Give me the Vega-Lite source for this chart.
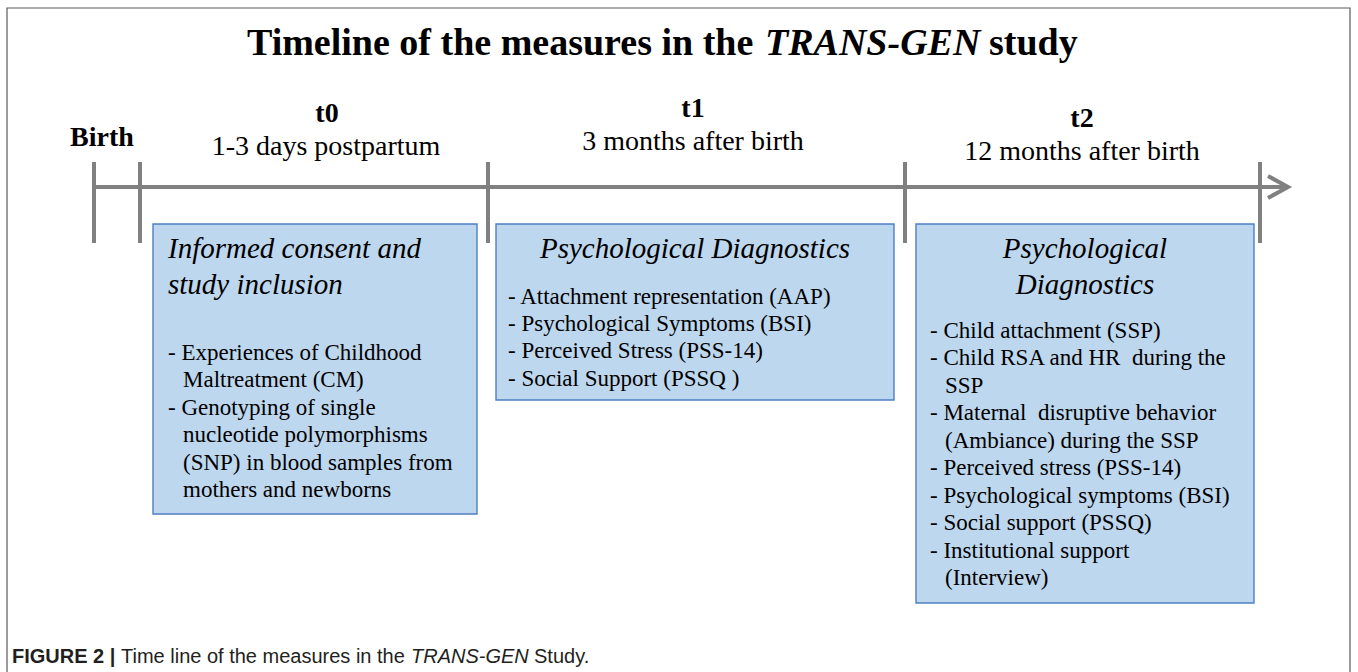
{
  "$schema": "https://vega.github.io/schema/vega-lite/v6.json",
  "width": 1358,
  "height": 672,
  "autosize": {"type": "fit", "contains": "padding"},
  "padding": 0,
  "background": "white",
  "config": {"view": {"stroke": null}},
  "datasets": {
    "frame": [{"x": 7, "x2": 1350, "y": 8, "y2": 700}],
    "boxes": [
      {"x": 153, "x2": 477, "y": 224, "y2": 514},
      {"x": 496, "x2": 894, "y": 224, "y2": 400},
      {"x": 916, "x2": 1254, "y": 224, "y2": 603}
    ],
    "hline": [{"x": 93, "x2": 1285, "y": 187}],
    "ticks": [
      {"x": 94, "y": 162, "y2": 243},
      {"x": 140, "y": 162, "y2": 243},
      {"x": 488, "y": 162, "y2": 243},
      {"x": 905, "y": 162, "y2": 243},
      {"x": 1260, "y": 162, "y2": 243}
    ],
    "arrow": [
      {"x": 1268, "y": 176, "o": 1},
      {"x": 1288, "y": 187, "o": 2},
      {"x": 1268, "y": 198, "o": 3}
    ],
    "texts": [
      {"role": "title", "t": "Timeline of the measures in the", "x": 247, "y": 55},
      {"role": "titleItalic", "t": "TRANS-GEN", "x": 765, "y": 55},
      {"role": "title", "t": "study", "x": 989, "y": 55},
      {"role": "point", "t": "Birth", "x": 102, "y": 146},
      {"role": "point", "t": "t0", "x": 327, "y": 122},
      {"role": "pointSub", "t": "1-3 days postpartum", "x": 326, "y": 155},
      {"role": "point", "t": "t1", "x": 693, "y": 117},
      {"role": "pointSub", "t": "3 months after birth", "x": 693, "y": 150},
      {"role": "point", "t": "t2", "x": 1082, "y": 127},
      {"role": "pointSub", "t": "12 months after birth", "x": 1082, "y": 160},
      {"role": "headLeft", "t": "Informed consent and", "x": 168, "y": 258},
      {"role": "headLeft", "t": "study inclusion", "x": 168, "y": 294},
      {"role": "headCenter", "t": "Psychological Diagnostics", "x": 695, "y": 258},
      {"role": "headCenter", "t": "Psychological", "x": 1085, "y": 258},
      {"role": "headCenter", "t": "Diagnostics", "x": 1085, "y": 294},
      {"role": "body", "t": "- Experiences of Childhood", "x": 168, "y": 360},
      {"role": "body", "t": "Maltreatment (CM)", "x": 183, "y": 387},
      {"role": "body", "t": "- Genotyping of single", "x": 168, "y": 415},
      {"role": "body", "t": "nucleotide polymorphisms", "x": 183, "y": 442},
      {"role": "body", "t": "(SNP) in blood samples from", "x": 183, "y": 470},
      {"role": "body", "t": "mothers and newborns", "x": 183, "y": 497},
      {"role": "body", "t": "- Attachment representation (AAP)", "x": 508, "y": 304},
      {"role": "body", "t": "- Psychological Symptoms (BSI)", "x": 508, "y": 331},
      {"role": "body", "t": "- Perceived Stress (PSS-14)", "x": 508, "y": 358},
      {"role": "body", "t": "- Social Support (PSSQ )", "x": 508, "y": 386},
      {"role": "body", "t": "- Child attachment (SSP)", "x": 930, "y": 338},
      {"role": "body", "t": "- Child RSA and HR\u00a0 during the", "x": 930, "y": 365},
      {"role": "body", "t": "SSP", "x": 945, "y": 393},
      {"role": "body", "t": "- Maternal\u00a0 disruptive behavior", "x": 930, "y": 420},
      {"role": "body", "t": "(Ambiance) during the SSP", "x": 945, "y": 448},
      {"role": "body", "t": "- Perceived stress (PSS-14)", "x": 930, "y": 475},
      {"role": "body", "t": "- Psychological symptoms (BSI)", "x": 930, "y": 503},
      {"role": "body", "t": "- Social support (PSSQ)", "x": 930, "y": 530},
      {"role": "body", "t": "- Institutional support", "x": 930, "y": 558},
      {"role": "body", "t": "(Interview)", "x": 945, "y": 585},
      {"role": "capBold", "t": "FIGURE 2 |", "x": 12, "y": 663},
      {"role": "cap", "t": "Time line of the measures in the", "x": 121, "y": 663},
      {"role": "capItalic", "t": "TRANS-GEN", "x": 411, "y": 663},
      {"role": "cap", "t": "Study.", "x": 534, "y": 663}
    ]
  },
  "encoding": {
    "x": {"field": "x", "type": "quantitative", "scale": {"domain": [0, 1358], "nice": false, "zero": false}, "axis": null},
    "y": {"field": "y", "type": "quantitative", "scale": {"domain": [0, 672], "nice": false, "zero": false, "reverse": true}, "axis": null}
  },
  "layer": [
    {
      "data": {"name": "frame"},
      "mark": {"type": "rect", "fill": null, "stroke": "#5a5a5a", "strokeWidth": 1.2, "clip": true},
      "encoding": {"x2": {"field": "x2"}, "y2": {"field": "y2"}}
    },
    {
      "data": {"name": "boxes"},
      "mark": {"type": "rect", "fill": "#bdd7ee", "stroke": "#4f7fc4", "strokeWidth": 1.4},
      "encoding": {"x2": {"field": "x2"}, "y2": {"field": "y2"}}
    },
    {
      "data": {"name": "hline"},
      "mark": {"type": "rule", "color": "#808080", "strokeWidth": 4},
      "encoding": {"x2": {"field": "x2"}}
    },
    {
      "data": {"name": "ticks"},
      "mark": {"type": "rule", "color": "#808080", "strokeWidth": 4},
      "encoding": {"y2": {"field": "y2"}}
    },
    {
      "data": {"name": "arrow"},
      "mark": {"type": "line", "color": "#808080", "strokeWidth": 4, "strokeJoin": "miter", "strokeCap": "butt"},
      "encoding": {"order": {"field": "o", "type": "quantitative"}}
    },
    {
      "data": {"name": "texts"},
      "transform": [{"filter": "datum.role === 'title'"}],
      "mark": {"type": "text", "font": "Liberation Serif", "fontSize": 38, "fontWeight": "bold", "align": "left", "baseline": "alphabetic", "color": "#000"},
      "encoding": {"text": {"field": "t"}}
    },
    {
      "data": {"name": "texts"},
      "transform": [{"filter": "datum.role === 'titleItalic'"}],
      "mark": {"type": "text", "font": "Liberation Serif", "fontSize": 38, "fontWeight": "bold", "fontStyle": "italic", "align": "left", "baseline": "alphabetic", "color": "#000"},
      "encoding": {"text": {"field": "t"}}
    },
    {
      "data": {"name": "texts"},
      "transform": [{"filter": "datum.role === 'point'"}],
      "mark": {"type": "text", "font": "Liberation Serif", "fontSize": 28, "fontWeight": "bold", "align": "center", "baseline": "alphabetic", "color": "#000"},
      "encoding": {"text": {"field": "t"}}
    },
    {
      "data": {"name": "texts"},
      "transform": [{"filter": "datum.role === 'pointSub'"}],
      "mark": {"type": "text", "font": "Liberation Serif", "fontSize": 28, "align": "center", "baseline": "alphabetic", "color": "#000"},
      "encoding": {"text": {"field": "t"}}
    },
    {
      "data": {"name": "texts"},
      "transform": [{"filter": "datum.role === 'headLeft'"}],
      "mark": {"type": "text", "font": "Liberation Serif", "fontSize": 29, "fontStyle": "italic", "align": "left", "baseline": "alphabetic", "color": "#000"},
      "encoding": {"text": {"field": "t"}}
    },
    {
      "data": {"name": "texts"},
      "transform": [{"filter": "datum.role === 'headCenter'"}],
      "mark": {"type": "text", "font": "Liberation Serif", "fontSize": 29, "fontStyle": "italic", "align": "center", "baseline": "alphabetic", "color": "#000"},
      "encoding": {"text": {"field": "t"}}
    },
    {
      "data": {"name": "texts"},
      "transform": [{"filter": "datum.role === 'body'"}],
      "mark": {"type": "text", "font": "Liberation Serif", "fontSize": 23, "align": "left", "baseline": "alphabetic", "color": "#000"},
      "encoding": {"text": {"field": "t"}}
    },
    {
      "data": {"name": "texts"},
      "transform": [{"filter": "datum.role === 'capBold'"}],
      "mark": {"type": "text", "font": "Liberation Sans", "fontSize": 20, "fontWeight": "bold", "align": "left", "baseline": "alphabetic", "color": "#231f20"},
      "encoding": {"text": {"field": "t"}}
    },
    {
      "data": {"name": "texts"},
      "transform": [{"filter": "datum.role === 'cap'"}],
      "mark": {"type": "text", "font": "Liberation Sans", "fontSize": 20, "align": "left", "baseline": "alphabetic", "color": "#231f20"},
      "encoding": {"text": {"field": "t"}}
    },
    {
      "data": {"name": "texts"},
      "transform": [{"filter": "datum.role === 'capItalic'"}],
      "mark": {"type": "text", "font": "Liberation Sans", "fontSize": 20, "fontStyle": "italic", "align": "left", "baseline": "alphabetic", "color": "#231f20"},
      "encoding": {"text": {"field": "t"}}
    }
  ]
}
